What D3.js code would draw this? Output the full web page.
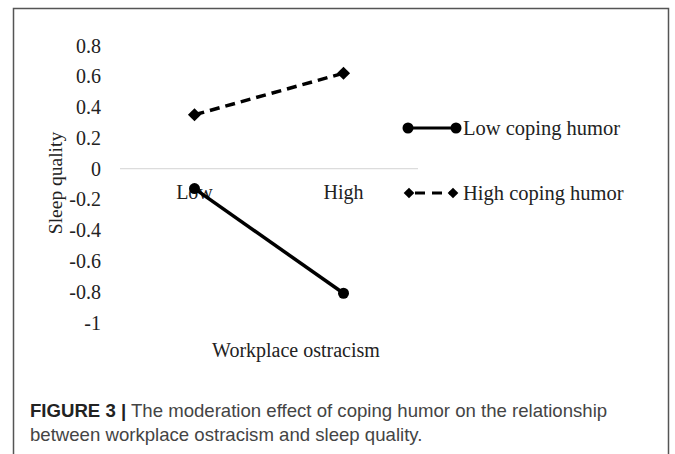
<!DOCTYPE html>
<html lang="en">
<head>
<meta charset="UTF-8">
<title>Moderation effect of coping humor</title>
<script src="https://d3js.org/d3.v7.min.js"></script>
<style>
    body { margin: 0; background: #fff; }
    svg { display: block; }
    .serif { font-family: "Liberation Serif", "Times New Roman", serif; fill: #222; }
    .caption { font-family: "Liberation Sans", Arial, sans-serif; fill: #444; font-size: 18.6px; }
</style>
</head>
<body>
<svg id="chart" width="675" height="454"></svg>
<script>
    // data
    const categories = ["Low", "High"];
    const seriesNames = ["Low coping humor", "High coping humor"];
    const lowHumor = [-0.13, -0.81];
    const highHumor = [0.35, 0.62];
    const yTicks = [0.8, 0.6, 0.4, 0.2, 0, -0.2, -0.4, -0.6, -0.8, -1];

    const svg = d3.select("#chart");

    // outer frame (open at the bottom)
    svg.append("path")
        .attr("d", "M13.5,454 V8.5 H668.5 V454")
        .attr("fill", "none").attr("stroke", "#555").attr("stroke-width", 1.5);

    const x = d3.scaleBand().domain(categories).range([120, 418]);
    const y = d3.scaleLinear().domain([-1, 0.8]).range([322.5, 45.5]);

    // zero line
    svg.append("line")
        .attr("x1", 120).attr("x2", 418)
        .attr("y1", y(0)).attr("y2", y(0))
        .attr("stroke", "#dcdcdc").attr("stroke-width", 1.2);

    // y tick labels
    svg.append("g").selectAll("text")
        .data(yTicks).enter().append("text")
        .attr("class", "serif")
        .attr("x", 101).attr("y", d => y(d))
        .attr("dy", "0.35em")
        .attr("text-anchor", "end")
        .attr("font-size", 20)
        .text(d => String(d));

    // category labels
    svg.append("g").selectAll("text")
        .data(categories).enter().append("text")
        .attr("class", "serif")
        .attr("x", d => x(d) + x.bandwidth() / 2)
        .attr("y", 192).attr("dy", "0.35em")
        .attr("text-anchor", "middle")
        .attr("font-size", 20)
        .text(d => d);

    // axis titles
    svg.append("text").attr("class", "serif")
        .attr("transform", "translate(55,183) rotate(-90)")
        .attr("dy", "0.35em")
        .attr("text-anchor", "middle").attr("font-size", 19.5)
        .text("Sleep quality");
    svg.append("text").attr("class", "serif")
        .attr("x", 296).attr("y", 350).attr("dy", "0.35em")
        .attr("text-anchor", "middle").attr("font-size", 20)
        .text("Workplace ostracism");

    const line = d3.line()
        .x((d, i) => x(categories[i]) + x.bandwidth() / 2)
        .y(d => y(d));

    const diamond = d3.symbol().type(d3.symbolDiamond2);

    // low coping humor: solid with circles
    svg.append("path").datum(lowHumor)
        .attr("d", line).attr("fill", "none")
        .attr("stroke", "#000").attr("stroke-width", 3.5);
    svg.append("g").selectAll("circle")
        .data(lowHumor).enter().append("circle")
        .attr("cx", (d, i) => x(categories[i]) + x.bandwidth() / 2)
        .attr("cy", d => y(d))
        .attr("r", 5.5).attr("fill", "#000");

    // high coping humor: dashed with diamonds
    svg.append("path").datum(highHumor)
        .attr("d", line).attr("fill", "none")
        .attr("stroke", "#000").attr("stroke-width", 3.5)
        .attr("stroke-dasharray", "10,6");
    svg.append("g").selectAll("path")
        .data(highHumor).enter().append("path")
        .attr("d", diamond.size(110))
        .attr("transform", (d, i) => `translate(${x(categories[i]) + x.bandwidth() / 2},${y(d)})`)
        .attr("fill", "#000");

    // legend
    const legend = svg.append("g");
    const legendY = [128, 193];
    seriesNames.forEach((name, i) => {
        const g = legend.append("g").attr("transform", `translate(0,${legendY[i]})`);
        const x0 = i === 0 ? 408 : 409, x1 = i === 0 ? 456 : 453;
        g.append("line").attr("x1", x0).attr("x2", x1)
            .attr("stroke", "#000").attr("stroke-width", 3)
            .attr("stroke-dasharray", i === 1 ? "10,7" : null)
            .attr("stroke-dashoffset", i === 1 ? 11 : null);
        [x0, x1].forEach(cx => {
            if (i === 0) {
                g.append("circle").attr("cx", cx).attr("r", 5.5).attr("fill", "#000");
            } else {
                g.append("path").attr("d", diamond.size(72))
                    .attr("transform", `translate(${cx},0)`).attr("fill", "#000");
            }
        });
        g.append("text").attr("class", "serif")
            .attr("x", 463).attr("dy", "0.35em")
            .attr("font-size", 20.5)
            .text(name);
    });

    // caption
    const cap = svg.append("text").attr("class", "caption").attr("x", 30).attr("y", 417);
    cap.append("tspan").attr("font-weight", "bold").attr("fill", "#222").text("FIGURE 3 |");
    cap.append("tspan").text(" The moderation effect of coping humor on the relationship");
    svg.append("text").attr("class", "caption").attr("x", 30).attr("y", 441)
        .text("between workplace ostracism and sleep quality.");
</script>
</body>
</html>
